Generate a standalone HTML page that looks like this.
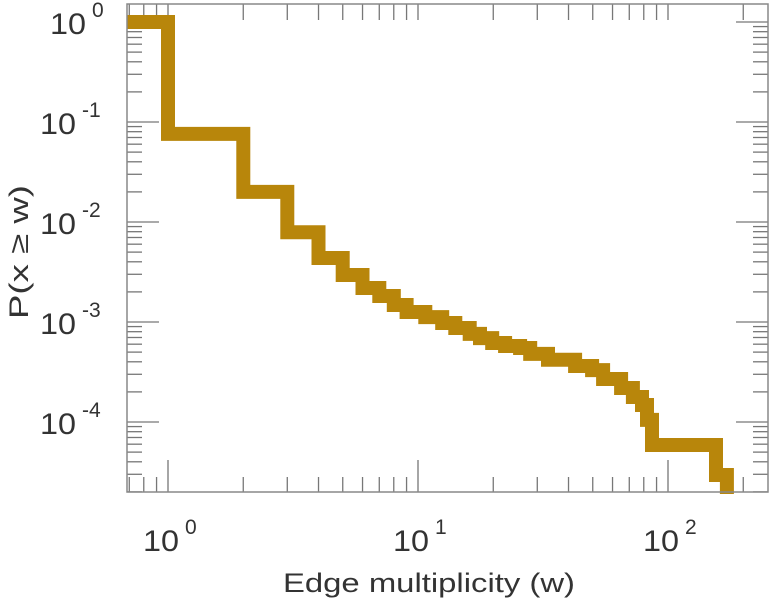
<!DOCTYPE html>
<html><head><meta charset="utf-8"><style>
html,body{margin:0;padding:0;background:#fff;}
svg{display:block;font-family:"Liberation Sans",sans-serif;}
</style></head><body>
<svg id="chart" width="773" height="600" viewBox="0 0 773 600" xmlns="http://www.w3.org/2000/svg">
<g id="axes"></g>
<path id="series" fill="none" stroke="#b8860b" stroke-width="14" stroke-linejoin="miter" stroke-linecap="butt"/>
<rect x="127" y="4" width="641" height="488" fill="none" stroke="#888" stroke-width="1.5"/>
<text x="429" y="592" font-size="27" fill="#333" text-anchor="middle" textLength="292" lengthAdjust="spacingAndGlyphs">Edge multiplicity (w)</text>
<text transform="translate(28,252) rotate(-90)" font-size="27" fill="#333" text-anchor="middle" textLength="134" lengthAdjust="spacingAndGlyphs">P(x ≥ w)</text>
</svg>
<script>
// data: step starts (w) and CCDF values P(x >= w)
const stepW = [0.686, 1, 2, 3, 4, 5, 6, 7, 8, 9, 10.7, 12.5, 14.1, 16.1, 17.7, 19.8, 22.3, 25.6, 28.1, 33.1, 42.5, 49.7, 55, 64.9, 72.4, 78.7, 82.4, 86.3, 155.6];
const stepP = [1, 0.076, 0.02, 0.0079, 0.00437, 0.00295, 0.00219, 0.00182, 0.00148, 0.00126, 0.00112, 0.000977, 0.00087, 0.00076, 0.00069, 0.000617, 0.000575, 0.00055, 0.00048, 0.00042, 0.000363, 0.00033, 0.000269, 0.000219, 0.000178, 0.000148, 0.000105, 0.0000589, 0.0000295];
const lastW = [172];
const xTickExp = [0, 1, 2];
const yTickExp = [0, -1, -2, -3, -4];

const L=127,R=768,T=4,B=492;
const X0=168, XD=250, Y0=22, YD=100;
const xs = w => X0 + Math.log10(w)*XD;
const ys = p => Y0 - Math.log10(p)*YD;
const NS="http://www.w3.org/2000/svg";
const axes=document.getElementById('axes');
function line(x1,y1,x2,y2){const l=document.createElementNS(NS,'line');l.setAttribute('x1',x1);l.setAttribute('y1',y1);l.setAttribute('x2',x2);l.setAttribute('y2',y2);l.setAttribute('stroke','#777');l.setAttribute('stroke-width','1.3');axes.appendChild(l);return l;}

// x ticks
for(let e=-1;e<=2;e++){for(let m=1;m<=9;m++){const w=m*Math.pow(10,e);const x=xs(w);if(x<L||x>R)continue;
 const len=m===1?32:15;
 const t=line(x,B,x,B-len);
 
 
 const t2=line(x,T,x,T+16);
 
 
}}
xTickExp.forEach(e=>{const x=xs(Math.pow(10,e));
 const t=document.createElementNS(NS,'text');
 
 
 t.setAttribute('x',x-25);t.setAttribute('y',551);t.setAttribute('font-size','30');t.setAttribute('fill','#333');
 t.innerHTML='<tspan textLength="36" lengthAdjust="spacingAndGlyphs">10</tspan><tspan dx="6" dy="-17" font-size="21">'+e+'</tspan>';
 axes.appendChild(t);});
// y ticks
for(let e=-5;e<=0;e++){for(let m=1;m<=9;m++){const p=m*Math.pow(10,e);const y=ys(p);if(y<T||y>B)continue;
 const len=m===1?32:15;
 const t=line(L,y,L+len,y);
 
 
 const t2=line(R,y,R-len,y);
 
 
}}
yTickExp.forEach(e=>{const y=ys(Math.pow(10,e));
 const t=document.createElementNS(NS,'text');
 
 
 t.setAttribute('x',e===0?50:40);t.setAttribute('y',y+12);t.setAttribute('font-size','30');t.setAttribute('fill','#333');
 t.innerHTML='<tspan textLength="36" lengthAdjust="spacingAndGlyphs">10</tspan><tspan dx="6" dy="-17" font-size="21">'+e+'</tspan>';
 axes.appendChild(t);});

// series
let d='';
for(let i=0;i<stepW.length;i++){
 const x1=xs(stepW[i]);const x2=i+1<stepW.length?xs(stepW[i+1]):xs(lastW[0]);const y=ys(stepP[i]);
 d+=(i===0?'M':'L')+x1.toFixed(1)+','+y.toFixed(1)+'L'+x2.toFixed(1)+','+y.toFixed(1);
}
d+='L'+xs(lastW[0]).toFixed(1)+','+(B+2);
document.getElementById('series').setAttribute('d',d);
</script>
</body></html>
